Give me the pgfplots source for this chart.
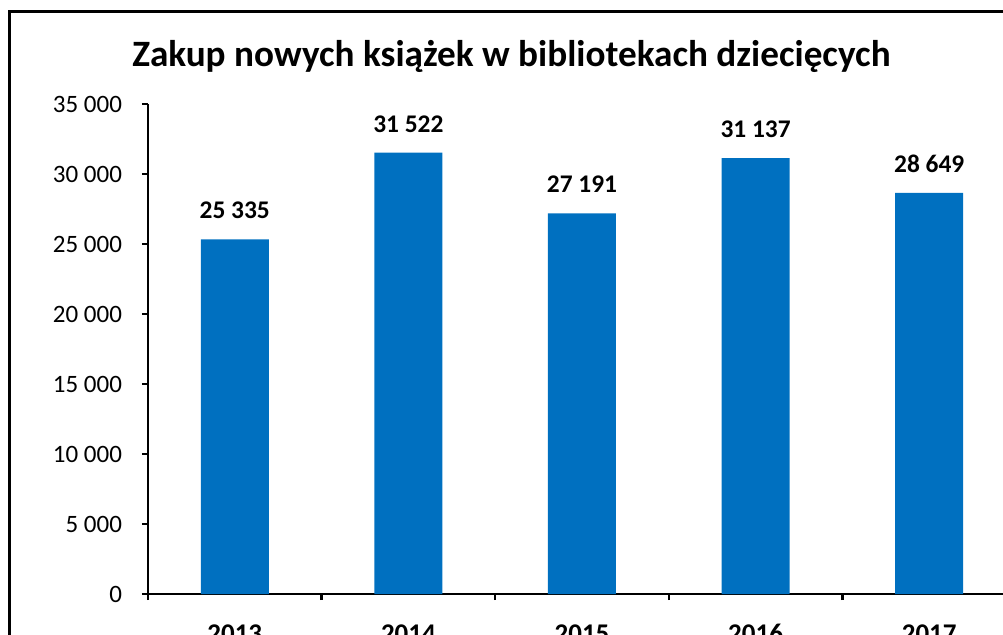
\documentclass[border=0pt]{standalone}
\usepackage{pgfplots}
\pgfplotsset{compat=1.18}
\usepackage{fontspec}
\setmainfont{Carlito}
\definecolor{barblue}{RGB}{0,112,192}
\begin{document}
\begin{tikzpicture}[x=0.5pt,y=0.5pt]
\begin{axis}[
  scale only axis, width=434pt, height=245pt,
  xmin=-0.5, xmax=4.5, ymin=0, ymax=35000,
  axis x line*=bottom, axis y line*=left,
  axis line style={line width=1.2pt,-},
  xtick={0,1,2,3,4},
  xticklabels={2013,2014,2015,2016,2017},
  major x tick style={draw=none},
  minor xtick={-0.5,0.5,1.5,2.5,3.5,4.5},
  minor tick length=3pt,
  ytick={0,5000,...,35000},
  major tick length=3pt,
  tick align=outside,
  tick style={line width=1.2pt,black},
  yticklabel style={font=\fontsize{12.5}{14}\selectfont, inner sep=0pt, xshift=-9.8pt},
  xticklabel style={font=\bfseries\fontsize{13.5}{15}\selectfont, inner sep=0pt, yshift=-12pt},
  /pgf/number format/assume math mode=true,
  /pgf/number format/.cd, 1000 sep={\ }, /pgfplots/.cd,
  scaled y ticks=false,
  nodes near coords,
  nodes near coords style={font=\bfseries\fontsize{12.7}{14}\selectfont, inner sep=0pt, yshift=10pt, anchor=south},
  every node near coord/.append style={/pgf/number format/assume math mode=true,/pgf/number format/1000 sep={\ }},
  clip=false,
]
\addplot[ybar, bar width=34pt, fill=barblue, draw=none] coordinates {
(0,25335) (1,31522) (2,27191) (3,31137) (4,28649)};
\coordinate (ll) at (rel axis cs:0,0);
\end{axis}
\pgfresetboundingbox
\begin{scope}[shift={(ll)}]
\useasboundingbox (-148,-40) rectangle (855,594);
\draw[line width=1.5pt] (-138.5,-60) -- (-138.5,582.5) -- (900,582.5);
\node[anchor=base,font=\bfseries\fontsize{18.6}{20}\selectfont] at (363.5,528) {Zakup nowych książek w bibliotekach dziecięcych};
\end{scope}
\end{tikzpicture}
\end{document}
